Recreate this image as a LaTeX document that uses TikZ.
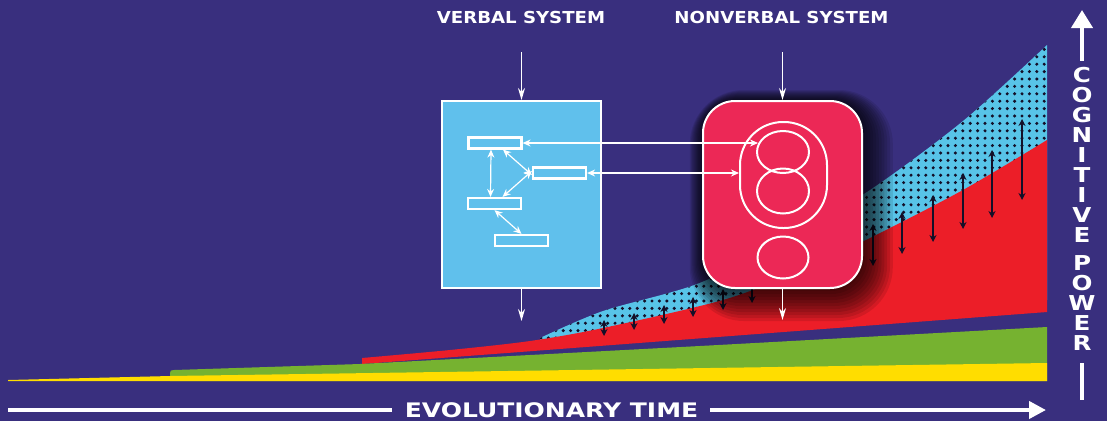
\documentclass[tikz,border=0pt]{standalone}
\usepackage{fontspec}
\setsansfont{DejaVu Sans}
\newfontfamily\labA{DejaVu Sans}[FakeStretch=1.1]
\newfontfamily\labB{DejaVu Sans}[FakeStretch=1.25]
\newfontfamily\labC{DejaVu Sans}[FakeStretch=1.2]
\usetikzlibrary{arrows.meta,shapes.geometric}
\definecolor{bg}{RGB}{57,47,126}
\definecolor{yellowc}{RGB}{255,221,0}
\definecolor{greenc}{RGB}{118,178,48}
\definecolor{redc}{RGB}{236,30,40}
\definecolor{cyanc}{RGB}{88,196,232}
\definecolor{vboxc}{RGB}{96,192,236}
\definecolor{nvred}{RGB}{236,40,86}
\definecolor{dotc}{RGB}{20,15,40}
\begin{document}
\begin{tikzpicture}[x=1pt,y=-1pt,
  blk/.style={draw=dotc,line width=2.2pt,{Stealth[length=7pt,width=7pt]}-{Stealth[length=7pt,width=7pt]}},
  wa/.style={draw=white,line width=1.2pt,{Stealth[length=8pt,width=7pt]}-{Stealth[length=8pt,width=7pt]}},
  wdown/.style={draw=white,line width=1.4pt,-{Stealth[length=12pt,width=7pt]}},
  inbox/.style={draw=white,line width=2.2pt,inner sep=0pt,minimum width=53pt,minimum height=11pt},
  ring/.style={ellipse,draw=white,line width=2pt,inner sep=0pt},
  lbl/.style={text=white,inner sep=0pt,font=\labA\bfseries\fontsize{16.5}{18}\selectfont},
  axisline/.style={draw=white,line width=4pt}
]
\useasboundingbox (0,0) rectangle (1107,421);
\fill[bg] (0,0) rectangle (1107,421);

% cyan dotted region
\begin{scope}
\clip plot[smooth] coordinates {(540,338) (603,311) (697,284) (780,243) (870,190) (963,121) (1047,45)} -- (1047,300) -- (540,340) -- cycle;
\fill[cyanc] (530,30) rectangle (1050,350);
\foreach \x in {541,548.4,...,1047} {
  \foreach \y in {42,49.4,...,340} {
    \fill[dotc] (\x,\y) circle (1.7);
  }
}
\end{scope}

% red region
\fill[redc] plot[smooth] coordinates {(362,358) (450,350) (530,341) (603,328) (723,300) (800,271) (870,238) (963,190) (1047,140)} -- (1047,312) -- (362,364) -- cycle;

% black double arrows
\foreach \x/\a/\b in {604/320/336, 634/313/330, 664/305/324, 693/297/317, 723/289/310, 752/281/303, 873/224/266, 902/212/254, 933/195/242, 963/173/229, 992/150/218, 1022/119/200}
  \draw[blk] (\x,\a) -- (\x,\b);

% green and yellow bands
\fill[greenc] (170,381) -- (170,373) .. controls (170,370.5) and (171,370) .. (174,370) -- (360,364) -- (700,346) -- (1047,327) -- (1047,381) -- cycle;
\fill[yellowc] (8,381) -- (8,380) -- (170,376) -- (1047,363) -- (1047,381) -- cycle;

% shadow of nonverbal box
\foreach \i in {1,...,11} {
  \pgfmathsetmacro\rr{32+2*\i}
  \fill[black,opacity=0.10,rounded corners=\rr] ({703-2*\i+0.8*\i},{101-2*\i+1.0*\i}) rectangle ({862+2*\i+0.8*\i},{288+2*\i+1.0*\i});
}

% verbal system
\node[draw=white,line width=2pt,fill=vboxc,minimum width=159pt,minimum height=187pt,inner sep=0pt] (vb) at (521.5,194.5) {};
\node[inbox] (R1) at (495,143) {};
\node[inbox] (R2) at (559.5,173) {};
\node[inbox] (R3) at (494.5,203.5) {};
\node[inbox] (R4) at (521.5,240.5) {};
\draw[wa] ([xshift=-4pt]R1.south) -- ([xshift=-4pt]R3.north);
\draw[wa] ([xshift=8pt]R1.south) -- ([yshift=-2pt]R2.west);
\draw[wa] ([yshift=2pt]R2.west) -- ([xshift=8pt]R3.north);
\draw[wa] (R3.south) -- (R4.north);

% nonverbal system
\node[draw=white,line width=2pt,fill=nvred,rounded corners=32pt,minimum width=159pt,minimum height=187pt,inner sep=0pt] (nv) at (782.5,194.5) {};
\node[draw=white,line width=2pt,rounded corners=43pt,minimum width=87pt,minimum height=106pt,inner sep=0pt] (stad) at (783.5,175) {};
\node[ring,minimum width=52pt,minimum height=42pt] (up) at (783,152) {};
\node[ring,minimum width=52pt,minimum height=45pt] (lo) at (783,191) {};
\node[ring,minimum width=51pt,minimum height=42pt] (bt) at (783,257.5) {};

% links between the systems
\draw[wa] (R1.east) -- ([xshift=2pt]R1.east -| up.west);
\draw[wa] (R2.east) -- (R2.east -| stad.west);

% labels and in/out arrows
\node[lbl] (vlab) at (521,17) {VERBAL SYSTEM};
\node[lbl] (nvlab) at (781.5,17) {NONVERBAL SYSTEM};
\coordinate (vin) at (521.5,52);
\coordinate (nvin) at (782.5,52);
\coordinate (vout) at (521.5,321);
\coordinate (nvout) at (782.5,320);
\draw[wdown] (vin) -- (vb.north);
\draw[wdown] (nvin) -- (nv.north);
\draw[wdown] (vb.south) -- (vout);
\draw[wdown] (nv.south) -- (nvout);

% evolutionary time axis
\node[text=white,inner sep=0pt,font=\labB\bfseries\fontsize{20}{22}\selectfont] (evo) at (551.5,410) {EVOLUTIONARY TIME};
\coordinate (el) at (8,410);
\coordinate (er) at (1046,410);
\draw[axisline,shorten >=13pt] (el) -- (evo.west);
\draw[axisline,shorten <=12pt,-{Triangle[width=17pt,length=17pt]}] (evo.east) -- (er);

% cognitive power axis
\node[text=white,inner sep=0pt,anchor=north,align=center,font=\labC\bfseries\fontsize{20.5}{20}\selectfont] (cog) at (1082,67.5) {C\\O\\G\\N\\I\\T\\I\\V\\E\\[8pt]P\\O\\W\\E\\R};
\coordinate (ct) at (1082,10);
\coordinate (cb) at (1082,400);
\draw[axisline,shorten <=7pt,-{Triangle[width=21pt,length=18pt]}] (cog.north) -- (ct);
\draw[axisline,shorten <=12pt] (cog.south) -- (cb);
\end{tikzpicture}
\end{document}
